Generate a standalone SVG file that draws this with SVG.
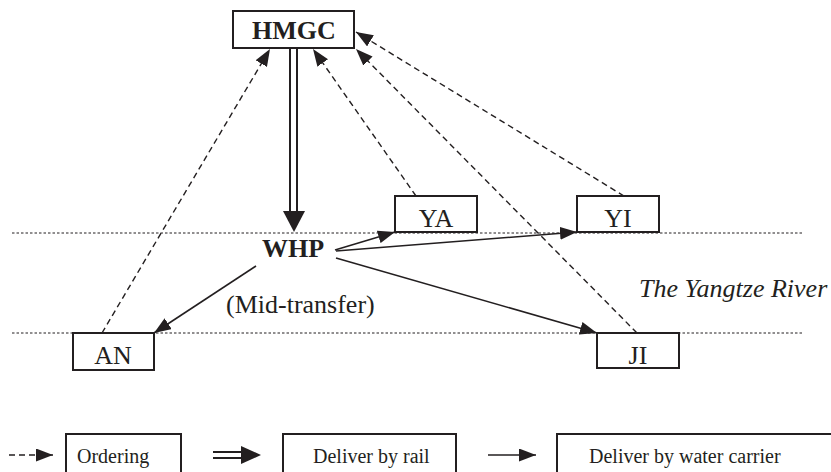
<svg xmlns="http://www.w3.org/2000/svg" width="831" height="472" viewBox="0 0 831 472">
<style>
text{font-family:"Liberation Serif","Times New Roman",serif;fill:#231f20}
.n{font-size:26px;text-anchor:middle}
.b{font-weight:bold}
.box{fill:#fff;stroke:#231f20;stroke-width:2}
.dash{fill:none;stroke:#231f20;stroke-width:1.4;stroke-dasharray:6,4}
.solid{fill:none;stroke:#231f20;stroke-width:1.6}
.river{fill:none;stroke:#231f20;stroke-width:1;stroke-dasharray:2.5,2}
.lg{font-size:20px}
</style>
<defs>
<marker id="ah" viewBox="0 0 17 13" refX="17" refY="6.5" markerWidth="17" markerHeight="13" markerUnits="userSpaceOnUse" orient="auto">
<path d="M0,0 L17,6.5 L0,13 Z" fill="#231f20"/>
</marker>
</defs>
<g id="river">
<line class="river" x1="12" y1="233" x2="803" y2="233"/>
<line class="river" x1="12" y1="333" x2="803" y2="333"/>
</g>
<g id="connectors">
<line class="dash" x1="102" y1="333" x2="270" y2="49" marker-end="url(#ah)"/>
<line class="dash" x1="416" y1="196" x2="313" y2="49" marker-end="url(#ah)"/>
<line class="dash" x1="637" y1="333" x2="356" y2="49" marker-end="url(#ah)"/>
<line class="dash" x1="624" y1="196" x2="356" y2="32" marker-end="url(#ah)"/>
<line class="solid" x1="290" y1="48" x2="290" y2="214" style="stroke-width:2"/>
<line class="solid" x1="297" y1="48" x2="297" y2="214" style="stroke-width:2"/>
<path d="M283,211 L305,211 L294,232 Z" fill="#231f20"/>
<line class="solid" x1="335" y1="250" x2="395" y2="232" marker-end="url(#ah)"/>
<line class="solid" x1="336" y1="251" x2="577" y2="232" marker-end="url(#ah)"/>
<line class="solid" x1="336" y1="258" x2="597" y2="333" marker-end="url(#ah)"/>
<line class="solid" x1="256" y1="266" x2="154" y2="333" marker-end="url(#ah)"/>
</g>
<g id="HMGC">
<rect class="box" x="233" y="11" width="121" height="37"/>
<text class="n b" x="294" y="39">HMGC</text>
</g>
<g id="WHP">
<text class="n b" x="293" y="257">WHP</text>
</g>
<g id="YA">
<rect class="box" x="395" y="196" width="82" height="36"/>
<text class="n" x="436" y="227">YA</text>
</g>
<g id="YI">
<rect class="box" x="577" y="196" width="82" height="36"/>
<text class="n" x="618" y="227">YI</text>
</g>
<g id="AN">
<rect class="box" x="73" y="333" width="81" height="37"/>
<text class="n" x="113" y="364">AN</text>
</g>
<g id="JI">
<rect class="box" x="597" y="333" width="82" height="35"/>
<text class="n" x="638" y="364">JI</text>
</g>
<g id="labels">
<text x="226" y="313" style="font-size:26px">(Mid-transfer)</text>
<text x="639" y="297" style="font-size:26px;font-style:italic">The Yangtze River</text>
</g>
<g id="legend">
<line class="dash" x1="9" y1="455" x2="53" y2="455" marker-end="url(#ah)"/>
<rect class="box" x="66" y="434" width="115" height="60"/>
<text class="lg" x="77" y="463">Ordering</text>
<line class="solid" x1="213" y1="452" x2="245" y2="452" style="stroke-width:2"/>
<line class="solid" x1="213" y1="458" x2="245" y2="458" style="stroke-width:2"/>
<path d="M241,446 L261,455 L241,464 Z" fill="#231f20"/>
<rect class="box" x="283" y="434" width="173" height="60"/>
<text class="lg" x="313" y="463">Deliver by rail</text>
<line class="solid" x1="488" y1="455" x2="536" y2="455" marker-end="url(#ah)"/>
<rect class="box" x="557" y="434" width="290" height="60"/>
<text class="lg" x="589" y="463">Deliver by water carrier</text>
</g>
</svg>
